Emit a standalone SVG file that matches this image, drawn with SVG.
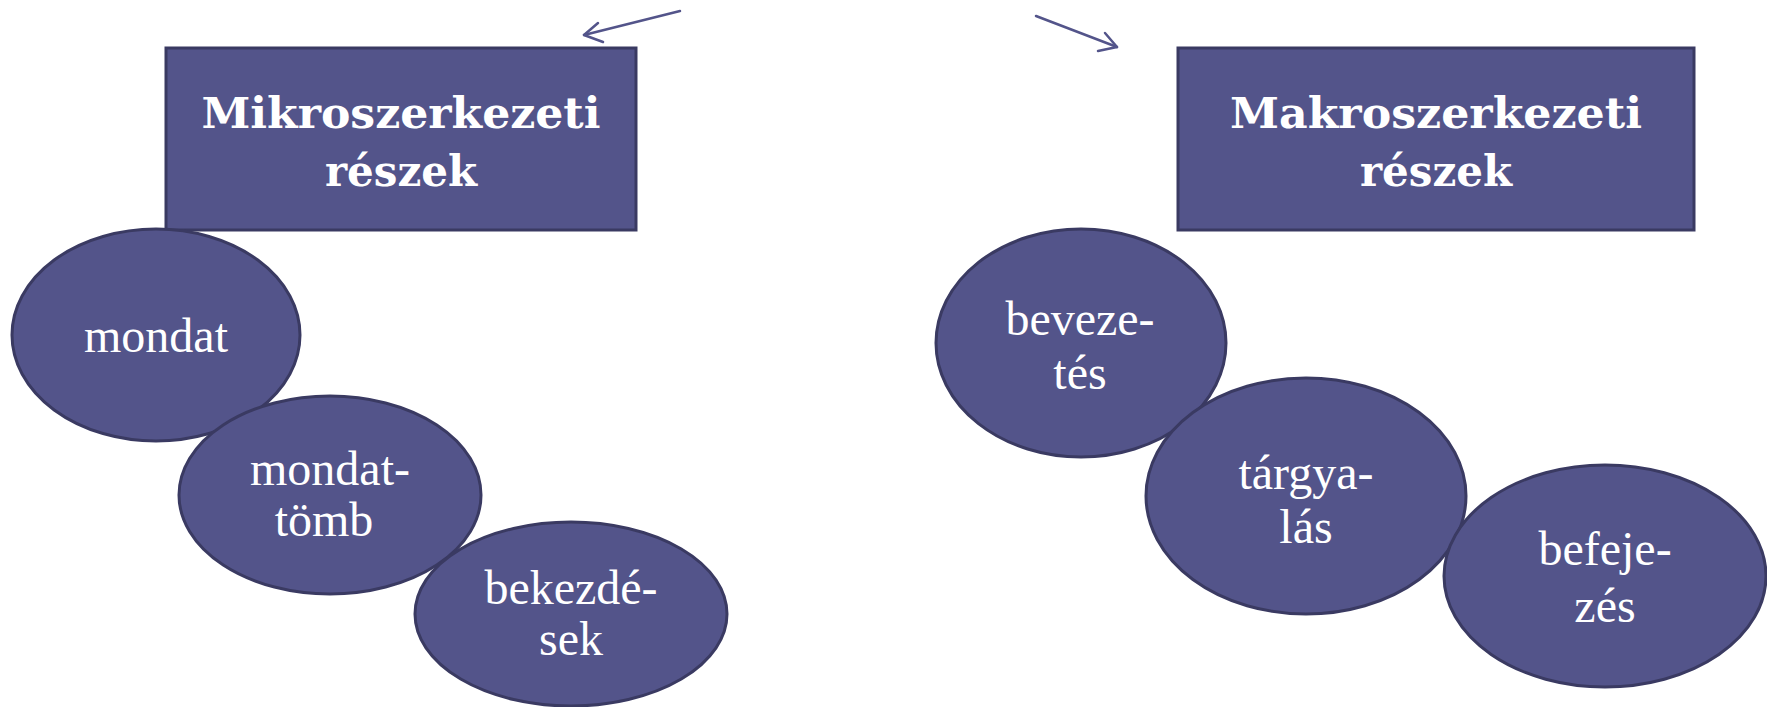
<svg xmlns="http://www.w3.org/2000/svg" width="1767" height="707" viewBox="0 0 1767 707">
<style>
.box{fill:#53548A;stroke:#3A3A62;stroke-width:3}
.ell{fill:#53548A;stroke:#3A3A62;stroke-width:3}
.bt{font-family:"DejaVu Serif",serif;font-weight:bold;font-size:42px;fill:#ffffff;text-anchor:middle}
.et{font-family:"Liberation Serif","Times New Roman",serif;font-size:48px;fill:#ffffff;text-anchor:middle}
.arr{fill:none;stroke:#53548A;stroke-width:2.5;stroke-linecap:round;stroke-linejoin:round}
</style>
<rect width="1767" height="707" fill="#ffffff"/>
<g id="connectors">
<path class="arr" d="M680 11 L584 35"/>
<path class="arr" d="M598 23 L584 35 L603 42"/>
<path class="arr" d="M1036 16 L1117 47"/>
<path class="arr" d="M1105 33 L1117 47 L1098 51"/>
</g>
<g id="mikro">
<rect class="box" x="166" y="48" width="470" height="182"/>
<text class="bt" x="401" y="128" textLength="399" lengthAdjust="spacingAndGlyphs">Mikroszerkezeti</text>
<text class="bt" x="401" y="186">részek</text>
</g>
<g id="makro">
<rect class="box" x="1178" y="48" width="516" height="182"/>
<text class="bt" x="1436" y="128" textLength="412" lengthAdjust="spacingAndGlyphs">Makroszerkezeti</text>
<text class="bt" x="1436" y="186">részek</text>
</g>
<g id="mondat">
<ellipse class="ell" cx="156" cy="335" rx="144" ry="106"/>
<text class="et" x="156" y="352">mondat</text>
</g>
<g id="mondattomb">
<ellipse class="ell" cx="330" cy="495" rx="151" ry="99"/>
<text class="et" x="330" y="485">mondat-</text>
<text class="et" x="324" y="536">tömb</text>
</g>
<g id="bekezdesek">
<ellipse class="ell" cx="571" cy="614" rx="156" ry="92"/>
<text class="et" x="571" y="604">bekezdé-</text>
<text class="et" x="571" y="655">sek</text>
</g>
<g id="bevezetes">
<ellipse class="ell" cx="1081" cy="343" rx="145" ry="114"/>
<text class="et" x="1080" y="335">beveze-</text>
<text class="et" x="1080" y="389">tés</text>
</g>
<g id="targyalas">
<ellipse class="ell" cx="1306" cy="496" rx="160" ry="118"/>
<text class="et" x="1306" y="489">tárgya-</text>
<text class="et" x="1306" y="543">lás</text>
</g>
<g id="befejezes">
<ellipse class="ell" cx="1605" cy="576" rx="161" ry="111"/>
<text class="et" x="1605" y="565">befeje-</text>
<text class="et" x="1605" y="622">zés</text>
</g>
</svg>
